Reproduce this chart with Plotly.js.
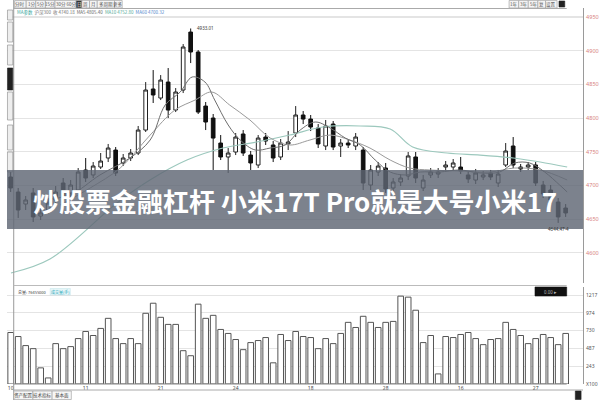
<!DOCTYPE html>
<html><head><meta charset="utf-8">
<script src="https://cdn.plot.ly/plotly-3.0.1.min.js"></script>
<style>html,body{margin:0;padding:0;background:#fff}#c{width:600px;height:400px}</style>
</head><body><div id="c"></div>
<script>
// ---- data ----
const idx = Array.from({length:75},(_,i)=>i);
const open  = [4712.6,4690.3,4672.5,4688.9,4654.7,4663.6,4678.5,4703.7,4688.9,4693.3,4723.0,4715.6,4727.4,4740.8,4752.6,4733.4,4740.8,4748.2,4782.3,4843.2,4829.8,4853.5,4812.0,4841.7,4927.7,4898.1,4817.9,4800.1,4763.0,4742.3,4749.7,4776.4,4745.2,4730.4,4771.9,4760.1,4742.3,4761.6,4777.9,4804.6,4798.6,4785.3,4758.6,4791.2,4758.6,4763.0,4758.6,4752.6,4700.7,4720.0,4725.9,4696.3,4705.2,4714.1,4742.3,4696.3,4715.6,4717.0,4727.4,4727.4,4727.4,4715.6,4708.1,4712.6,4718.5,4703.7,4730.4,4758.6,4727.4,4727.4,4730.4,4700.7,4693.3,4675.5,4666.6];
const high  = [4720.0,4696.3,4684.4,4696.3,4666.6,4681.4,4699.2,4711.1,4708.1,4725.9,4740.8,4734.8,4748.2,4761.6,4757.1,4746.7,4754.1,4788.3,4853.5,4871.3,4863.9,4874.3,4844.6,4909.9,4933.01,4901.0,4823.9,4806.1,4774.9,4755.6,4777.9,4782.3,4751.2,4774.9,4777.9,4766.0,4769.0,4780.8,4817.9,4810.5,4804.6,4791.2,4797.2,4795.7,4769.0,4767.5,4777.9,4757.1,4730.4,4734.8,4733.4,4711.1,4717.0,4749.7,4749.7,4715.6,4725.9,4725.9,4736.3,4739.3,4742.3,4721.5,4724.5,4721.5,4723.0,4723.0,4763.0,4771.9,4731.9,4734.8,4734.8,4706.7,4700.7,4681.4,4672.5];
const low   = [4690.3,4651.8,4663.6,4645.8,4648.8,4657.7,4672.5,4677.0,4682.9,4688.9,4705.2,4711.1,4724.5,4734.8,4714.1,4728.9,4736.3,4745.2,4779.4,4822.4,4826.8,4800.1,4809.0,4837.2,4881.7,4806.1,4782.3,4723.0,4737.8,4718.5,4745.2,4743.8,4723.0,4725.9,4760.1,4734.8,4737.8,4752.6,4771.9,4791.2,4780.8,4755.6,4752.6,4752.6,4742.3,4755.6,4752.6,4693.3,4693.3,4714.1,4688.9,4691.8,4699.2,4708.1,4703.7,4691.8,4711.1,4711.1,4721.5,4723.0,4717.0,4703.7,4702.2,4708.1,4708.1,4697.8,4727.4,4725.9,4720.0,4723.0,4699.2,4681.4,4672.5,4644.47,4653.3];
const close = [4696.3,4663.6,4678.5,4653.3,4659.2,4674.0,4690.3,4682.9,4700.7,4720.0,4711.1,4728.9,4736.3,4755.6,4718.5,4740.8,4748.2,4782.3,4841.7,4834.3,4856.5,4812.0,4838.7,4905.5,4898.1,4809.0,4794.2,4770.4,4742.3,4748.2,4771.9,4748.2,4733.4,4770.4,4766.0,4740.8,4763.0,4764.5,4804.6,4798.6,4786.8,4761.6,4788.3,4757.1,4763.0,4760.1,4771.9,4703.7,4723.0,4728.9,4694.8,4705.2,4711.1,4743.8,4711.1,4708.1,4720.0,4720.0,4730.4,4733.4,4721.5,4709.6,4718.5,4715.6,4712.6,4717.0,4751.2,4730.4,4724.5,4730.4,4703.7,4687.4,4678.5,4653.3,4659.2];
const volume = [705,650,526,484,221,83,553,484,512,622,719,664,761,899,622,553,622,553,968,1106,913,816,816,456,387,1093,899,940,747,692,609,470,567,595,636,290,678,595,719,650,636,484,622,553,692,844,774,927,844,774,844,857,1203,1189,1010,567,664,138,650,636,678,705,622,539,609,622,844,747,664,553,622,678,636,539,692];

const ma5X = [3.9,7.9,11.9,15.9,18.6,20.6,22.6,24.2,25.9,27.2,29.0,30.6,32.6,34.6,36.6,38.6,40.6,42.6,44.6,46.6,48.6,50.6,52.6,54.6,57.2,59.9,62.6,65.2,67.2,69.2,71.2,73.2,74.2];
const ma5Y = [4678.5,4685.9,4715.6,4740.8,4767.5,4819.4,4838.7,4861.0,4853.6,4826.9,4789.8,4767.5,4752.7,4755.6,4760.1,4782.3,4794.2,4785.3,4770.5,4760.1,4737.8,4720.0,4715.6,4720.0,4720.0,4723.0,4718.5,4720.0,4733.4,4733.4,4720.0,4700.7,4690.4];
const ma10X = [6.6,10.6,14.6,18.6,21.9,24.6,26.8,29.2,31.9,34.6,37.2,39.9,42.6,45.2,47.9,50.6,53.2,55.9,59.9,63.9,67.2,70.6,74.2];
const ma10Y = [4671.1,4696.3,4725.9,4774.9,4812.0,4826.9,4838.7,4819.4,4797.2,4770.5,4760.1,4767.5,4774.9,4767.5,4755.6,4737.8,4725.9,4723.0,4721.5,4720.0,4725.9,4723.0,4708.2];
const ma60X = [0.04,5.24,14.17,18.57,23.5,28.3,32.8,37.2,41.6,46.6,50.6,53.6,58.2,62.6,67.0,70.6,74.2];
const ma60Y = [4570.2,4590.9,4674.0,4708.2,4737.8,4755.6,4764.5,4774.9,4786.8,4788.3,4783.8,4757.1,4748.2,4745.2,4740.8,4734.9,4727.4];

const priceTicks = [4600,4650,4700,4750,4800,4850,4900,4950];
const volTicks = [0,243,487,730,974,1217];
const volTickLabels = ['X100','243','487','730','974','1217'];
const dateTickIdx = [0,10,20,30,40,50,60,70];
const dateTickLabels = ['10','11','21','24','18','28','16','27'];
const bannerText = '炒股票金融杠杆 小米17T Pro就是大号小米17';
const toolbarLeft = ['分时','1分','5分','15分','30分 60分','日','周','月','多周期','更多'];
const toolbarRight = ['1年','3年','5年','复','设置'];
const bottomTabs = ['资产配置','技术指标','基本面'];

// ---- helpers (pixel -> paper) ----
const W=600,H=400;
const px = x => x/W, py = y => 1 - y/H;
const shapes=[], ann=[];
function rect(x0,y0,x1,y1,fill,line,lw){shapes.push({type:'rect',xref:'paper',yref:'paper',x0:px(x0),x1:px(x1),y0:py(y1),y1:py(y0),fillcolor:fill,line:{color:line||fill,width:lw==null?0.6:lw},layer:'above'});}
function hline(x0,x1,y,c,w){shapes.push({type:'line',xref:'paper',yref:'paper',x0:px(x0),x1:px(x1),y0:py(y),y1:py(y),line:{color:c,width:w||1},layer:'above'});}
function vline(x,y0,y1,c,w){shapes.push({type:'line',xref:'paper',yref:'paper',x0:px(x),x1:px(x),y0:py(y0),y1:py(y1),line:{color:c,width:w||1},layer:'above'});}
function txt(x,y,t,size,color,xa){ann.push({xref:'paper',yref:'paper',x:px(x),y:py(y),text:t,showarrow:false,xanchor:xa||'left',yanchor:'middle',font:{size:size,color:color,family:'Noto Sans CJK SC, Noto Sans, sans-serif'}});}

// toolbar top-left
const tbEdges=[8,20,30,40,50,72,78,86,94,112,120];
toolbarLeft.forEach((t,i)=>{const dark=(t==='日');rect(tbEdges[i],0.5,tbEdges[i+1],8,dark?'#333':'#f4f4f4','#999',0.6);txt((tbEdges[i]+tbEdges[i+1])/2,4.3,t,4.5,dark?'#fff':'#555','center');});
// toolbar top-right
const trEdges=[523,533,543,553,561,573];
toolbarRight.forEach((t,i)=>{rect(trEdges[i],0.5,trEdges[i+1],8,'#f4f4f4','#999',0.6);txt((trEdges[i]+trEdges[i+1])/2,4.3,t,4.5,'#555','center');});
rect(575,1,581,7,'#222','#222',0.6);
// MA legend row
txt(8,13,'<span style="color:#3aa7a0">MA参数</span>  <span style="color:#777">沪深300  收 4740.18</span>  <span style="color:#666">MA5 4805.40</span>  <span style="color:#5a9">MA10 4752.80</span>  <span style="color:#58c">MA60 4700.32</span>',4.5,'#777');
// left strip
vline(7,0,400,'#999',1);
rect(0.5,10,6,20,'#eee','#888',0.6);
rect(0.5,22,6,42,'#eee','#888',0.6);
rect(0.5,45,6,65,'#eee','#888',0.6);
rect(0.5,68,6,90,'#222','#222',0.6);
rect(0.5,92,6,120,'#eee','#888',0.6);
rect(0.5,125,6,150,'#eee','#888',0.6);
rect(0.5,152,6,172,'#eee','#888',0.6);
// panel borders
hline(7,583,8.5,'#aaa',1);
hline(7,583,285.5,'#bbb',1);
hline(7,583,384,'#888',1);
hline(7,600,390,'#aaa',1);
// volume header
txt(9,291.5,'总量: 76455000',4,'#444');
rect(45,288.5,66,295,'#e6f6f8','#bfe3e8',0.5);
txt(55.5,291.8,'成交量(手)',4,'#2aa6b8','center');
rect(550,287,583,296,'#111','#111',0.6);
txt(566,291.5,'0.00 ▸',4.5,'#bbb','center');
// bottom tabs
const btEdges=[7,27,47,67];
bottomTabs.forEach((t,i)=>{rect(btEdges[i],391,btEdges[i+1],399.5,'#f6f6f6','#999',0.6);txt((btEdges[i]+btEdges[i+1])/2,395.3,t,4.5,'#444','center');});
rect(592,391,598,399.5,'#222','#222',0.6);

// high / low labels
const hiVal=Math.max(...high), hiIdx=high.indexOf(hiVal);
const loVal=Math.min(...low), loIdx=low.indexOf(loVal);
ann.push({xref:'x',yref:'y',x:hiIdx+0.6,y:hiVal,text:hiVal.toFixed(2),showarrow:false,xanchor:'left',yanchor:'middle',font:{size:4.5,color:'#333'}});
ann.push({xref:'x',yref:'y',x:loIdx,y:loVal,text:loVal.toFixed(2)+'-4',showarrow:false,xanchor:'center',yanchor:'top',yshift:-1,font:{size:4.5,color:'#333'}});

// banner
shapes.push({type:'rect',xref:'paper',yref:'paper',x0:0,x1:1,y0:py(229),y1:py(170),fillcolor:'rgba(95,102,116,0.82)',line:{width:0},layer:'above'});
ann.push({xref:'paper',yref:'paper',x:0.5,y:py(200),text:bannerText,showarrow:false,xanchor:'center',yanchor:'middle',font:{size:26,color:'#ffffff',family:'Noto Sans CJK SC',weight:700}});

const traces=[
 {type:'scatter',mode:'lines',x:ma60X,y:ma60Y,line:{color:'#9cc8bd',width:1.2,shape:'spline'},hoverinfo:'skip',xaxis:'x',yaxis:'y'},
 {type:'scatter',mode:'lines',x:ma10X,y:ma10Y,line:{color:'#9a9a9a',width:1,shape:'spline'},hoverinfo:'skip',xaxis:'x',yaxis:'y'},
 {type:'scatter',mode:'lines',x:ma5X,y:ma5Y,line:{color:'#6e6e6e',width:1,shape:'spline'},hoverinfo:'skip',xaxis:'x',yaxis:'y'},
 {type:'candlestick',x:idx,open:open,high:high,low:low,close:close,xaxis:'x',yaxis:'y',
  increasing:{line:{color:'#222',width:1},fillcolor:'#ffffff'},
  decreasing:{line:{color:'#111',width:1},fillcolor:'#111111'},whiskerwidth:0,hoverinfo:'skip'},
 {type:'bar',x:idx,y:volume,xaxis:'x2',yaxis:'y2',marker:{color:'#ffffff',line:{color:'#555',width:1}},hoverinfo:'skip'}
];

const layout={
 width:600,height:400,margin:{l:7,r:17,t:0,b:0},paper_bgcolor:'#fff',plot_bgcolor:'#fff',
 showlegend:false,bargap:0.25,boxgap:0.3,
 font:{family:'Noto Sans, sans-serif'},
 xaxis:{domain:[0,1],anchor:'y',range:[-0.49,76.31],showticklabels:false,showgrid:false,zeroline:false,rangeslider:{visible:false},fixedrange:true},
 yaxis:{domain:[py(283),py(8)],range:[4555.3,4963.4],side:'right',tickvals:priceTicks,ticktext:priceTicks.map(String),
   tickfont:{size:5.5,color:'#d88080'},showgrid:true,gridcolor:'#e4e4e4',gridwidth:1.2,zeroline:false,showline:true,linecolor:'#9a9a9a',linewidth:1,ticks:'',ticklabelstandoff:1},
 xaxis2:{domain:[0,1],anchor:'y2',range:[-0.49,76.31],tickvals:dateTickIdx,ticktext:dateTickLabels,tickfont:{size:5,color:'#444'},showgrid:false,zeroline:false,ticks:'',ticklabelstandoff:0},
 yaxis2:{domain:[py(384),py(287)],range:[0,1328],side:'right',tickvals:volTicks,ticktext:volTickLabels,
   tickfont:{size:5,color:'#555'},showgrid:true,gridcolor:'#e4e4e4',gridwidth:1.2,zeroline:false,showline:true,linecolor:'#9a9a9a',linewidth:1,ticks:'',ticklabelstandoff:1},
 shapes:shapes,annotations:ann
};
Plotly.newPlot('c',traces,layout,{displayModeBar:false,staticPlot:true});
</script></body></html>
